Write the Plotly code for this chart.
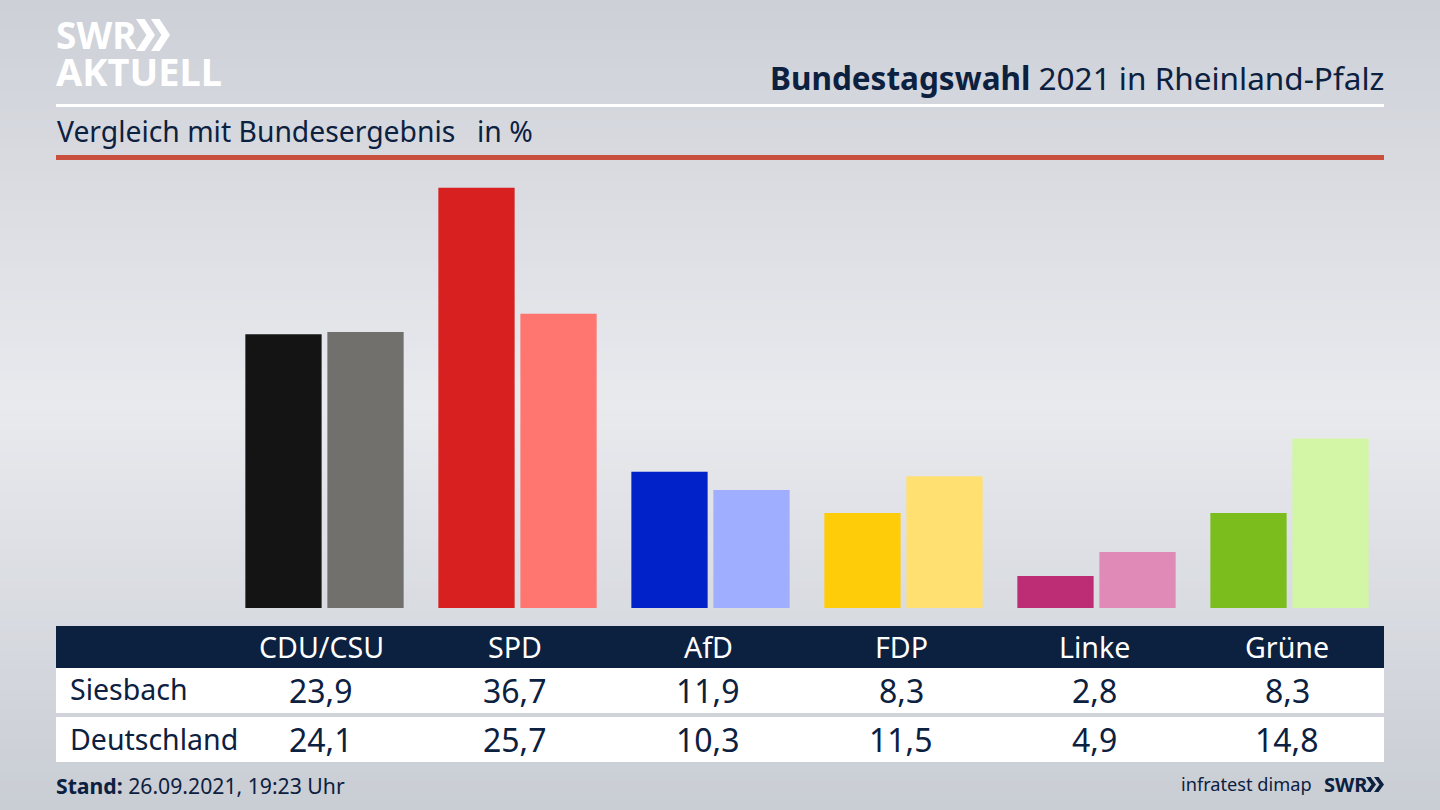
import plotly.graph_objects as go

W, H = 1440, 810
parties = ["CDU/CSU", "SPD", "AfD", "FDP", "Linke", "Grüne"]
siesbach = [23.9, 36.7, 11.9, 8.3, 2.8, 8.3]
deutschland = [24.1, 25.7, 10.3, 11.5, 4.9, 14.8]
colors_local = ["#141414", "#d7201f", "#0022c8", "#ffcc0a", "#bd2d76", "#7abd1c"]
colors_nat = ["#72706d", "#ff7570", "#a0aeff", "#ffe070", "#e08ab8", "#d2f6a6"]
row_labels = ["Siesbach", "Deutschland"]
label_x = [321, 514.5, 708, 901, 1094, 1287]
FONT = "Noto Sans"
NAVY = "#0c2040"

def px(x): return x / W
def py(y): return 1 - y / H
def fmt(v): return f"{v:.1f}".replace(".", ",")

fig = go.Figure()
fig.add_bar(x=parties, y=siesbach, name=row_labels[0], marker=dict(color=colors_local, line_width=0))
fig.add_bar(x=parties, y=deutschland, name=row_labels[1], marker=dict(color=colors_nat, line_width=0))

shapes = []
# background gradient as horizontal strips
top, mid, bot = (205, 208, 215), (233, 234, 238), (201, 205, 212)
n = 81
for i in range(n):
    t = i / (n - 1)
    a, b, u = (top, mid, t / 0.5) if t < 0.5 else (mid, bot, (t - 0.5) / 0.5)
    c = [round(a[k] + (b[k] - a[k]) * u) for k in range(3)]
    shapes.append(dict(type="rect", xref="paper", yref="paper", layer="below", x0=0, x1=1,
                       y0=py(i * H / n), y1=py((i + 1) * H / n + 1),
                       fillcolor=f"rgb({c[0]},{c[1]},{c[2]})", line_width=0))

def rect(x0, y0, x1, y1, color):
    shapes.append(dict(type="rect", xref="paper", yref="paper", layer="below",
                       x0=px(x0), x1=px(x1), y0=py(y0), y1=py(y1), fillcolor=color, line_width=0))

rect(56, 104, 1384, 107, "#ffffff")
rect(56, 155, 1384, 160, "#c8503c")
rect(56, 626, 1384, 668, NAVY)
rect(56, 668, 1384, 713, "#ffffff")
rect(56, 717, 1384, 762, "#ffffff")

def chevrons(x, y, h, w, color, gap):
    for dx in (0, gap):
        pts = [(x + dx, y), (x + dx + w * 0.45, y), (x + dx + w, y + h / 2),
               (x + dx + w * 0.45, y + h), (x + dx, y + h), (x + dx + w * 0.55, y + h / 2)]
        path = "M " + " L ".join(f"{px(a):.5f},{py(b):.5f}" for a, b in pts) + " Z"
        shapes.append(dict(type="path", xref="paper", yref="paper", path=path, fillcolor=color, line_width=0))

chevrons(136, 19, 32, 19, "#ffffff", 15)
chevrons(1366, 777, 15, 10, NAVY, 8)

ann = []
def text(x, y, s, size, color=NAVY, anchor="left", family=FONT):
    ann.append(dict(xref="paper", yref="paper", x=px(x), y=py(y), text=s, showarrow=False,
                    xanchor=anchor, yanchor="middle", align=anchor,
                    font=dict(family=family, size=size, color=color)))

text(54, 35, "<b>SWR</b>", 37, "#ffffff")
text(54, 71, "<b>AKTUELL</b>", 38, "#ffffff")
text(1386, 77, "<b>Bundestagswahl</b> 2021 in Rheinland-Pfalz", 31.5, anchor="right")
text(55, 131, "Vergleich mit Bundesergebnis", 28.3)
text(475, 131, "in %", 28.3)
for i, p in enumerate(parties):
    text(label_x[i], 646, p, 28.6, "#ffffff", "center")
    text(label_x[i], 690, fmt(siesbach[i]), 32, anchor="center")
    text(label_x[i], 739, fmt(deutschland[i]), 32, anchor="center")
text(68, 689, row_labels[0], 28.5)
text(68, 739, row_labels[1], 28.5)
text(54, 785, "<b>Stand:</b> 26.09.2021, 19:23 Uhr", 21.2)
text(1314, 784, "infratest dimap", 18.2, anchor="right")
text(1322, 784, "<b>SWR</b>", 20)

fig.update_layout(
    width=W, height=H, margin=dict(l=0, r=0, t=0, b=0), showlegend=False,
    paper_bgcolor="#e4e5ea", plot_bgcolor="rgba(0,0,0,0)",
    barmode="group", bargap=0.15, bargroupgap=0.07,
    shapes=shapes, annotations=ann,
    xaxis=dict(domain=[px(228), px(1386)], showticklabels=False, showgrid=False, zeroline=False,
               showline=False, ticks="", range=[-0.5, 5.5], fixedrange=True),
    yaxis=dict(domain=[py(608), py(160)], range=[0, 39.12], showticklabels=False, showgrid=False,
               zeroline=False, showline=False, ticks="", fixedrange=True),
)
fig.write_html("out.html", config={"displayModeBar": False},
               post_script="document.body.style.margin='0';")
